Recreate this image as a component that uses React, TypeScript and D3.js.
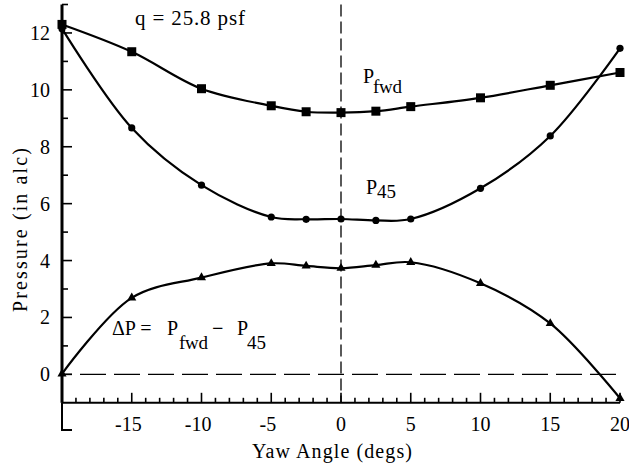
import React from "react";
import * as d3 from "d3";

const yaw = [-20, -15, -10, -5, -2.5, 0, 2.5, 5, 10, 15, 20];
const pFwd = [12.3, 11.34, 10.04, 9.44, 9.23, 9.2, 9.25, 9.41, 9.72, 10.16, 10.61];
const p45 = [12.15, 8.66, 6.65, 5.53, 5.45, 5.46, 5.41, 5.46, 6.54, 8.38, 11.46];
const deltaP = [0.02, 2.69, 3.4, 3.9, 3.81, 3.73, 3.84, 3.94, 3.2, 1.79, -0.84];

const xTickLabels = [-15, -10, -5, 0, 5, 10, 15, 20];
const yTickLabels = [0, 2, 4, 6, 8, 10, 12];

const W = 629;
const H = 470;
const FF = "Liberation Serif";

function T(props: any) {
  const { children, size = 20, ...rest } = props;
  return (
    <text fontFamily={FF} fontSize={size} style={{ fontFamily: FF, fontSize: size }} {...rest}>
      {children}
    </text>
  );
}

export default function App() {
  const x = d3.scaleLinear().domain([-20, 20]).range([62, 620]);
  const y = d3.scaleLinear().domain([-1, 13]).range([402.8, 4.5]);

  const line = (vals: number[]) =>
    d3
      .line<number>()
      .x((_, i) => x(yaw[i]))
      .y((v) => y(v))
      .curve(d3.curveCatmullRom.alpha(0.5))(vals) || "";

  const xMinor = d3.range(-20, 21, 1);
  const yMinor = d3.range(0, 14, 1);
  const tri = d3.symbol().type(d3.symbolTriangle).size(36)() || "";

  return (
    <svg width={W} height={H} style={{ position: "absolute", left: 0, top: 0, fontFamily: FF }}>
      <rect x={0} y={0} width={W} height={H} fill="#fff" />
      <line x1={x(-20)} x2={x(20)} y1={y(0)} y2={y(0)} stroke="#000" strokeWidth={1.3} strokeDasharray="26 8" strokeDashoffset={-18} />
      <line x1={x(0)} x2={x(0)} y1={y(13)} y2={y(-1)} stroke="#000" strokeWidth={1.3} strokeDasharray="12 5" />

      <line x1={x(-20)} x2={x(20)} y1={y(-1)} y2={y(-1)} stroke="#000" strokeWidth={2} />
      <line x1={x(-20)} x2={x(-20)} y1={y(13)} y2={y(-1)} stroke="#000" strokeWidth={3} />
      <path d={`M${x(-20)},${y(-1)}V430H${x(-20) + 10}`} fill="none" stroke="#000" strokeWidth={2} />

      {xMinor.map((v) => (
        <line key={"xt" + v} x1={x(v)} x2={x(v)} y1={y(-1)} y2={y(-1) - (v % 5 === 0 ? 10 : 5)} stroke="#000" strokeWidth={1.6} />
      ))}
      {yMinor.map((v) => (
        <line key={"yt" + v} x1={x(-20)} x2={x(-20) + (v % 2 === 0 ? 10 : 6)} y1={y(v)} y2={y(v)} stroke="#000" strokeWidth={1.6} />
      ))}

      {xTickLabels.map((v) => {
        const digits = String(Math.abs(v)).length;
        return (
          <T key={"xl" + v} x={x(v) + digits * 5} y={431} textAnchor="end">
            {String(v)}
          </T>
        );
      })}
      {yTickLabels.map((v) => (
        <T key={"yl" + v} x={50} y={y(v) + 7} textAnchor="end">
          {String(v)}
        </T>
      ))}

      <path d={line(pFwd)} fill="none" stroke="#000" strokeWidth={2.2} />
      <path d={line(p45)} fill="none" stroke="#000" strokeWidth={2.2} />
      <path d={line(deltaP)} fill="none" stroke="#000" strokeWidth={2.2} />

      {pFwd.map((v, i) => (
        <rect key={"s" + i} x={x(yaw[i]) - 4.5} y={y(v) - 4.5} width={9} height={9} fill="#000" />
      ))}
      {p45.map((v, i) => (
        <circle key={"c" + i} cx={x(yaw[i])} cy={y(v)} r={3.6} fill="#000" />
      ))}
      {deltaP.map((v, i) => (
        <path key={"t" + i} d={tri} transform={`translate(${x(yaw[i])},${y(v)})`} fill="#000" />
      ))}

      <T x={135} y={25} size={21} textLength={110} lengthAdjust="spacing">q = 25.8 psf</T>

      <T x={363} y={83}>P</T>
      <T x={373} y={93} size={19} textLength={29} lengthAdjust="spacing">fwd</T>

      <T x={366} y={194}>P</T>
      <T x={377} y={198} size={19}>45</T>

      <T x={112} y={335}>ΔP =</T>
      <T x={167} y={335}>P</T>
      <T x={179} y={349} size={19} textLength={29} lengthAdjust="spacing">fwd</T>
      <T x={212} y={335} fontWeight="bold">−</T>
      <T x={237} y={335}>P</T>
      <T x={247} y={349} size={19}>45</T>

      <T x={252} y={458} textLength={160} lengthAdjust="spacing">Yaw Angle (degs)</T>
      <T transform="translate(27,312) rotate(-90)" textLength={164} lengthAdjust="spacing">
        Pressure (in alc)
      </T>
    </svg>
  );
}
